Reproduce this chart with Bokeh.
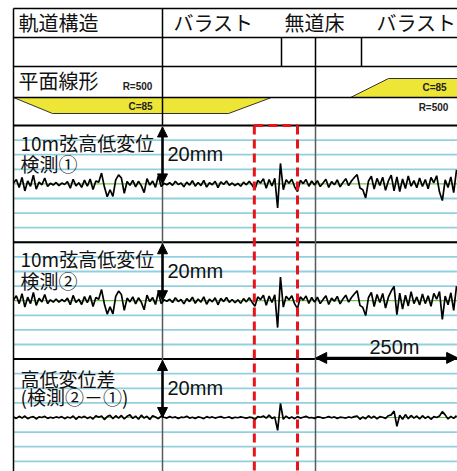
from bokeh.plotting import figure
from bokeh.models import Range1d, Arrow, NormalHead
from bokeh.core.properties import value
from bokeh.embed import file_html
from bokeh.resources import INLINE

# ---------------- data ----------------
distance_m = list(range(0, 785, 5))  # chainage along the track (m)

kensoku1_mm = [
    0.3, 1.5, -1.2, 2.2, -2.4, 1.0, -0.8, 3.0, -1.8, 0.6,
    -0.3, 2.0, -0.9, 0.2, -0.4, 0.5, -0.6, 0.3, -0.2, 0.8,
    -1.5, 1.6, -0.7, 0.4, -1.2, 1.3, -0.8, 1.7, -1.9, 1.0,
    0.6, 3.7, -1.0, -4.4, -2.0, -4.3, 1.4, 3.1, 2.0, -3.2,
    0.8, -0.5, 1.2, -1.0, 0.9, -0.6, -3.0, 1.8, -0.4, 1.0,
    -1.2, 2.8, -0.9, 0.2, -0.3, 0.4, -0.5, 0.9, -0.2, 0.3,
    -1.0, 0.6, -0.4, 1.1, -0.8, 0.5, -0.6, 1.2, -1.1, 0.4,
    -0.3, 0.9, -1.3, 0.7, -0.2, 1.0, -0.5, 0.3, -0.6, 0.2,
    -0.8, 0.6, -0.3, 0.9, -0.4, -1.8, 1.2, 0.3, 1.8, -1.5,
    1.5, -0.7, 1.9, -8.2, 7.0, -2.0, 1.4, 0.2, 1.6, -1.0,
    -2.6, 1.2, 0.1, 1.5, -0.8, 1.0, -0.4, 1.1, -0.9, 0.3,
    1.6, -1.2, 0.8, -0.3, 1.4, -1.0, 0.5, 1.8, -0.6, 1.0,
    2.2, 3.2, -1.4, -2.0, -4.8, 1.0, 2.6, -1.8, 1.9, -0.5,
    2.3, -2.2, 1.0, 3.0, -2.4, 2.4, -2.6, 1.7, -1.6, 2.7,
    -0.8, 1.1, -1.3, 2.0, -0.9, 1.5, -1.7, 2.2, 0.4, 2.8,
    -2.8, -5.7, 1.4, -1.2, 2.4, -3.0, 4.8,
]

kensoku2_mm = [
    0.2, 1.7, -1.0, 2.4, -2.2, 1.2, -1.0, 2.8, -1.6, 0.8,
    -0.4, 2.1, -1.0, 0.3, -0.5, 0.6, -0.5, 0.4, -0.3, 0.9,
    -1.4, 1.8, -0.6, 0.5, -1.3, 1.4, -0.7, 1.8, -2.0, 1.1,
    0.5, 3.8, -1.1, -4.6, -2.1, -4.5, 1.5, 3.3, 2.1, -3.3,
    0.9, -0.4, 1.3, -1.1, 1.0, -0.5, -3.1, 1.9, -0.3, 1.1,
    -1.3, 2.9, -1.0, 0.3, -0.2, 0.5, -0.6, 1.0, -0.3, 0.4,
    -1.1, 0.7, -0.3, 1.2, -0.9, 0.6, -0.5, 1.3, -1.2, 0.5,
    -0.4, 1.0, -1.4, 0.8, -0.3, 1.1, -0.6, 0.4, -0.7, 0.3,
    -0.9, 0.7, -0.4, 1.0, -0.5, -1.9, 1.3, 0.4, 1.9, -1.6,
    1.6, -0.6, 2.0, -9.2, 8.1, -2.2, 1.5, 0.3, 1.7, -1.1,
    -2.7, 1.3, 0.2, 1.6, -0.9, 1.1, -0.5, 1.2, -1.0, 0.4,
    1.7, -1.3, 0.9, -0.2, 1.5, -1.1, 0.6, 1.9, -0.5, 1.1,
    2.3, 3.4, -1.6, -2.3, -5.1, 1.1, 2.8, -2.0, 2.1, -0.6,
    2.5, -2.5, 1.2, 3.3, 4.9, -4.8, 2.6, -2.9, 1.9, -1.8,
    3.1, -1.0, 1.3, -1.5, 2.3, -1.0, 1.7, -1.9, 2.5, 0.5,
    3.1, -6.4, 1.6, -1.4, 2.7, -3.3, 5.0,
]

diff_mm = [
    0.2, -0.3, 0.4, -0.2, 0.5, -0.4, 0.1, 0.3, -0.5, 0.2,
    0.0, 0.4, -0.3, 0.1, -0.2, 0.2, -0.1, 0.3, -0.4, 0.2,
    -0.2, 0.5, -0.6, 0.3, -0.1, 0.4, -0.3, 0.2, -0.5, 0.6,
    0.1, 0.5, -0.7, 0.3, 0.8, -0.4, 0.6, -0.2, 0.7, -0.5,
    0.4, 0.9, -0.3, 0.5, -0.6, 0.8, -0.2, 0.4, -0.7, 0.6,
    0.2, -0.4, 0.5, 0.1, -0.2, 0.3, -0.1, 0.2, -0.3, 0.1,
    0.0, 0.4, -0.2, 0.1, -0.3, 0.2, 0.0, -0.4, 0.3, -0.1,
    0.2, -0.2, 0.1, 0.3, -0.1, 0.0, 0.2, -0.3, 0.1, -0.1,
    0.2, 0.0, -0.2, 0.1, 0.0, -0.7, 0.3, 0.1, 0.5, -0.2,
    0.8, -0.3, 0.2, -4.4, 4.8, -0.6, 0.5, -0.3, 0.2, -0.4,
    0.3, -0.2, 0.1, 0.4, -0.1, 0.0, -0.3, 0.2, 0.1, -0.2,
    0.0, 0.3, -0.1, 0.2, -0.3, 0.1, 0.0, -0.2, 0.2, -0.1,
    0.3, 0.5, -0.6, 0.2, -0.4, 0.6, -0.2, 0.4, -0.5, 0.3,
    0.1, -0.3, 0.6, 0.9, 2.2, -3.0, 0.8, -0.6, 1.0, -0.4,
    0.7, -0.2, 0.5, -0.5, 0.6, -0.3, 0.4, -0.6, 0.3, 0.0,
    0.5, 2.0, 0.9, -0.5, 0.4, -0.3, 0.6,
]

grid_levels_mm = [15, 10, 5, -5, -10, -15, -20]
panel_top_mm = 20
red_box_m = [424, 500]
scale_bar_m = [532, 782]
scale_bar_label = "250m"
amp_label = "20mm"
struct_title = "軌道構造"
struct_labels = ["バラスト", "無道床", "バラスト"]
plan_title = "平面線形"
curve_labels = ["C=85", "C=85"]
radius_labels = ["R=500", "R=500"]
panel_labels = [["10m弦高低変位", "検測①"], ["10m弦高低変位", "検測②"], ["高低変位差", "(検測②－①)"]]
series = [kensoku1_mm, kensoku2_mm, diff_mm]

# ---------------- layout ----------------
X0, X1, Y0, Y1 = 0, 457, 0, 471
LEFT = 13
PX_PER_M = 0.568
PX_PER_MM = 2.92
centers = [183.4, 300.2, 417.0]

CJK = value("Noto Sans CJK JP")
LAT = value("Liberation Sans")
CYAN = "#93d0df"
GRAY = "#5a5a5a"

p = figure(width=X1 - X0, height=Y1 - Y0, x_range=Range1d(X0, X1), y_range=Range1d(Y1, Y0),
           output_backend="svg", toolbar_location=None, min_border=0,
           x_axis_location=None, y_axis_location=None)
p.grid.visible = False
p.outline_line_color = None
p.background_fill_color = "white"
p.border_fill_color = "white"

p.extra_x_ranges = {"m": Range1d((X0 - LEFT) / PX_PER_M, (X1 - LEFT) / PX_PER_M)}
p.extra_y_ranges = {f"p{k}": Range1d((c - Y1) / PX_PER_MM, (c - Y0) / PX_PER_MM)
                    for k, c in enumerate(centers)}
m_end = (X1 - LEFT) / PX_PER_M

# yellow curve bands
p.patch([LEFT, 52, 228, 271], [97, 113, 113, 97], fill_color="#eee636", line_color="#333333", line_width=1)
p.patch([350, 388, 457, 457], [97, 78, 78, 97], fill_color="#eee636", line_color="#333333", line_width=1)

# strip panels
for k in range(3):
    rn = f"p{k}"
    p.segment(x0=[distance_m[0]] * len(grid_levels_mm), x1=[m_end] * len(grid_levels_mm),
              y0=grid_levels_mm, y1=grid_levels_mm, x_range_name="m", y_range_name=rn,
              line_color=CYAN, line_width=1.8)
    p.segment(x0=[distance_m[0]], x1=[m_end], y0=[0], y1=[0], x_range_name="m", y_range_name=rn,
              line_color="#6cc04a", line_width=1.2)
    p.segment(x0=[distance_m[0]], x1=[m_end], y0=[panel_top_mm], y1=[panel_top_mm],
              x_range_name="m", y_range_name=rn, line_color="black", line_width=2)

# gray vertical lines through strips
p.segment(x0=[162, 315], x1=[162, 315], y0=[125, 125], y1=[Y1, Y1], line_color=GRAY, line_width=1.5)

# waveforms
for k, vals in enumerate(series):
    p.line(distance_m[:len(vals)], vals, x_range_name="m", y_range_name=f"p{k}",
           line_color="black", line_width=1.7)

# header grid
p.segment(x0=[LEFT] * 4, x1=[X1] * 4, y0=[8, 37, 66, 97], y1=[8, 37, 66, 97],
          line_color="black", line_width=1.5)
p.segment(x0=[LEFT, 162, 315, 281, 361], x1=[LEFT, 162, 315, 281, 361],
          y0=[8, 8, 37, 37, 37], y1=[Y1, 125, 125, 66, 66], line_color="black", line_width=1.5)

# red dashed box
rb0, rb1 = red_box_m
p.segment(x0=[rb0, rb1, rb0], x1=[rb0, rb1, rb1], y0=[125, 125, 125], y1=[Y1, Y1, 125],
          x_range_name="m", line_color="#e8141b", line_width=3, line_dash="9 5")

# header texts
p.text(x=[18], y=[22], text=[struct_title], text_font=CJK, text_font_size="20px",
       text_baseline="middle", text_align="left", text_color="#111111")
p.text(x=[213, 314, 416], y=[22, 22, 22], text=struct_labels, text_font=CJK, text_font_size="20px",
       text_baseline="middle", text_align="center", text_color="#111111")
p.text(x=[18], y=[80], text=[plan_title], text_font=CJK, text_font_size="20px",
       text_baseline="middle", text_align="left", text_color="#111111")
p.text(x=[140, 434], y=[106, 87], text=curve_labels, text_font=LAT, text_font_size="10px",
       text_font_style="bold", text_baseline="middle", text_align="center", text_color="#222222")
p.text(x=[137, 433], y=[86, 107], text=radius_labels, text_font=LAT, text_font_size="10px",
       text_font_style="bold", text_baseline="middle", text_align="center", text_color="#222222")

# panel labels
label_y = [[142, 163], [258, 280], [378, 396]]
for k in range(3):
    p.text(x=[20, 20], y=label_y[k], text=panel_labels[k], text_font=CJK, text_font_size="19px",
           text_baseline="middle", text_align="left", text_color="#111111")
    p.text(x=[167], y=[centers[k] - 30], text=[amp_label], text_font=LAT, text_font_size="20px",
           text_baseline="middle", text_align="left", text_color="#111111")
    p.add_layout(Arrow(start=NormalHead(size=10, fill_color="black", line_color="black"),
                       end=NormalHead(size=10, fill_color="black", line_color="black"),
                       x_start=162, y_start=panel_top_mm - 0.5, x_end=162, y_end=0,
                       y_range_name=f"p{k}", line_color="black", line_width=2.5))

# 250 m scale bar
p.add_layout(Arrow(start=NormalHead(size=11, fill_color="black", line_color="black"),
                   end=NormalHead(size=11, fill_color="black", line_color="black"),
                   x_start=scale_bar_m[0], y_start=panel_top_mm + 0.4,
                   x_end=scale_bar_m[1], y_end=panel_top_mm + 0.4,
                   x_range_name="m", y_range_name="p2", line_color="black", line_width=2.5))
p.text(x=[394], y=[346], text=[scale_bar_label], text_font=LAT, text_font_size="20px",
       text_baseline="middle", text_align="center", text_color="#111111")

open("out.html", "w").write(file_html(p, INLINE))
